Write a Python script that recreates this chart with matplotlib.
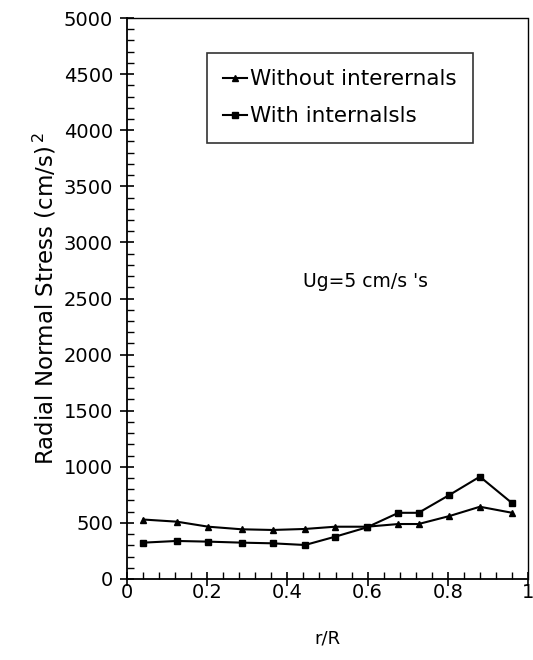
import matplotlib
matplotlib.use("Agg")
import matplotlib.pyplot as plt
from matplotlib.ticker import MultipleLocator

plt.rcParams['font.family'] = ['DejaVu Sans']

r_without = [0.041, 0.124, 0.203, 0.286, 0.363, 0.444, 0.519, 0.598, 0.677, 0.727, 0.804, 0.880, 0.959]
s_without = [530, 511, 466, 443, 437, 446, 466, 466, 490, 490, 561, 644, 591]
r_with = [0.041, 0.124, 0.203, 0.286, 0.363, 0.444, 0.519, 0.598, 0.677, 0.727, 0.804, 0.880, 0.959]
s_with = [324, 339, 333, 324, 318, 303, 377, 460, 590, 590, 749, 912, 680]
label_without = "Without interernals"
label_with = "With internalsls"
annotation = "Ug=5 cm/s 's"
ylabel = "Radial Normal Stress (cm/s)$^{\\,2}$"
xlabel = "r/R"

fig = plt.figure(figsize=(5.33, 6.6), dpi=100)
ax = fig.add_axes([127/533, 1-579/660, (528-127)/533, (579-18)/660])

ax.plot(r_without, s_without, color='black', lw=1.5, marker='^', ms=5, label=label_without)
ax.plot(r_with, s_with, color='black', lw=1.5, marker='s', ms=5, label=label_with)

ax.set_xlim(0, 1)
ax.set_ylim(0, 5000)
ax.xaxis.set_major_locator(MultipleLocator(0.2))
ax.xaxis.set_minor_locator(MultipleLocator(0.04))
ax.yaxis.set_major_locator(MultipleLocator(500))
ax.yaxis.set_minor_locator(MultipleLocator(100))
ax.set_xticks([0, 0.2, 0.4, 0.6, 0.8, 1.0])
ax.set_xticklabels(['0', '0.2', '0.4', '0.6', '0.8', '1'])
ax.tick_params(which='major', direction='inout', length=10, width=1.2, labelsize=14, pad=5)
ax.tick_params(axis='x', which='major', pad=-2)
ax.tick_params(which='minor', direction='in', length=5, width=1)
ax.spines['left'].set_linewidth(1.3)
ax.spines['bottom'].set_linewidth(1.3)
ax.spines['top'].set_linestyle((0, (2, 1)))
ax.spines['right'].set_linestyle((0, (1, 1)))
ax.spines['top'].set_linewidth(1.0)
ax.spines['right'].set_linewidth(1.0)

ax.set_ylabel(ylabel, fontsize=16.5, labelpad=4)
ax.set_xlabel(xlabel, fontsize=13, labelpad=20)

ax.text(0.438, 2650, annotation, fontsize=13.5, va='center', ha='left')

leg = ax.legend(loc='upper left', bbox_to_anchor=((207-127)/401, (579-53)/561),
                borderaxespad=0,
                fontsize=15.5, frameon=True, fancybox=False, edgecolor='black',
                handlelength=1.1, handletextpad=0.15, borderpad=0.75, labelspacing=0.8,
                markerscale=0.8)
leg.get_frame().set_linewidth(1.2)

fig.savefig("out.png", dpi=100)
